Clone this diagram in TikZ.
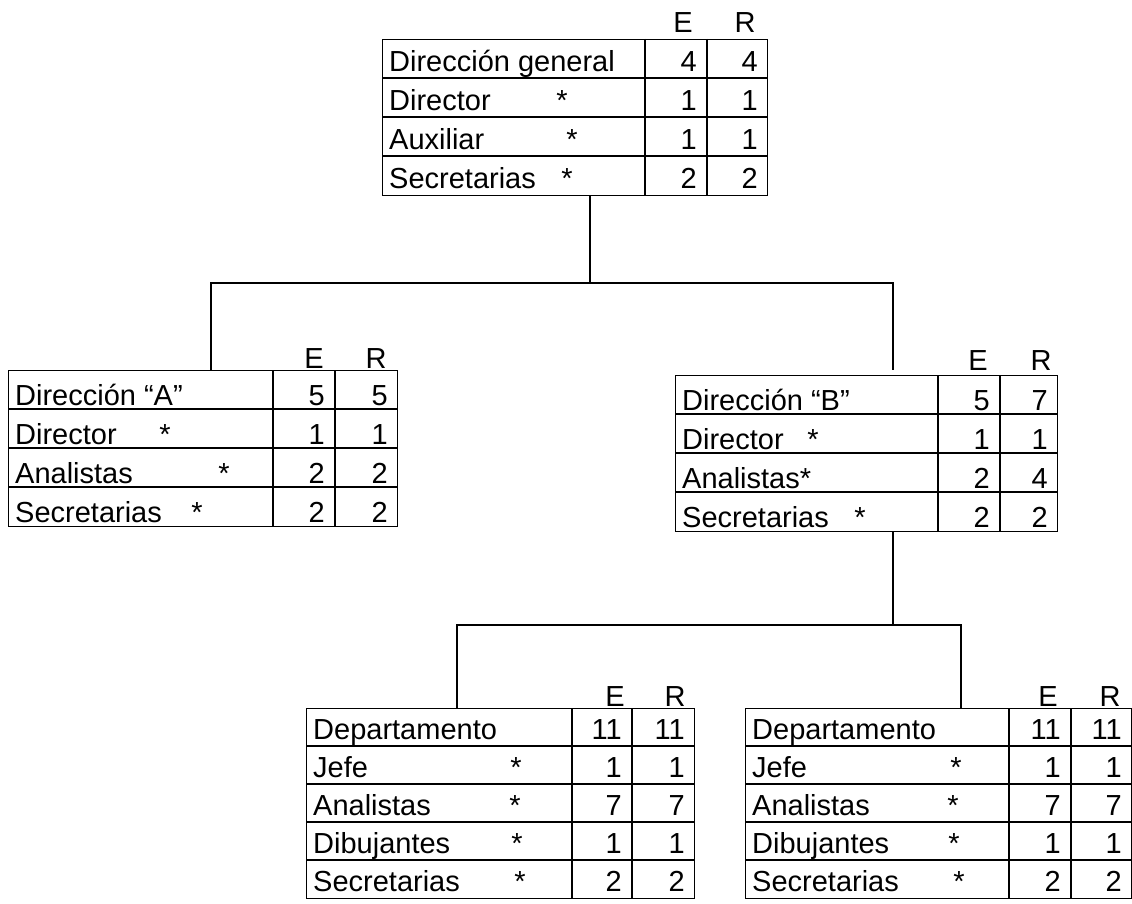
\documentclass[tikz,border=0pt]{standalone}
\usepackage{fontspec}
\setmainfont{Liberation Sans}
\begin{document}
% Staffing chart: each box lists posts with their E and R head counts
\tikzset{
  tbox/.style={draw, line width=1.3pt, inner sep=0pt, anchor=north west},
  grid/.style={line width=1.3pt},
  txt/.style={inner sep=0pt, anchor=base west},
  num/.style={inner sep=0pt, anchor=base east},
  hdr/.style={inner sep=0pt, anchor=base},
  starmark/.style={inner sep=0pt, anchor=base},
  link/.style={line width=1.2pt},
}
% \orgtab{name}{left}{div1}{div2}{right}{top}{rows}{label/star x/E/R,...}
% row height in \rowh, baseline lift above row bottom in \blift
\newcommand{\orgtab}[8]{%
  \pgfmathsetmacro\tabh{#7*\rowh}
  \node[tbox, minimum width={(#5-#2)*1pt}, minimum height=\tabh pt] (#1) at (#2,#6) {};
  \draw[grid] (#3,#6) -- (#3,{#6+\tabh});
  \draw[grid] (#4,#6) -- (#4,{#6+\tabh});
  \foreach \lbl/\st/\ev/\rv [count=\i] in {#8} {
    \pgfmathsetmacro\yb{#6+\i*\rowh}
    \ifnum\i<#7 \draw[grid] (#2,\yb) -- (#5,\yb); \fi
    \node[txt] (#1-t\i) at ({#2+7},{\yb-\blift}) {\lbl};
    \node[num] (#1-e\i) at ({#4-10},{\yb-\blift}) {\ev};
    \node[num] (#1-r\i) at ({#5-9},{\yb-\blift}) {\rv};
    \ifdim\st pt>0pt \node[starmark] (#1-s\i) at (\st,{\yb-\blift}) {*}; \fi
  }
}
\begin{tikzpicture}[x=1pt, y=-1pt, font=\fontsize{29}{35}\selectfont]
\useasboundingbox (0,0) rectangle (1132,904);

% general management
\def\rowh{39}\def\blift{6.5}
\orgtab{dg}{382}{645}{707}{767}{39}{4}{Dirección general/0/4/4, Director/562/1/1, Auxiliar/572/1/1, Secretarias/567/2/2}
\node[hdr] (dg-E) at (683,33) {E};
\node[hdr] (dg-R) at (745,33) {R};

% management A
\def\rowh{39}\def\blift{4}
\orgtab{da}{8}{273}{335}{397}{370}{4}{Dirección “A”/0/5/5, Director/165/1/1, Analistas/224/2/2, Secretarias/197/2/2}
\node[hdr] (da-E) at (314,368) {E};
\node[hdr] (da-R) at (376,368) {R};

% management B
\def\rowh{39}\def\blift{3.5}
\orgtab{db}{675}{938}{1000}{1057}{375}{4}{Dirección “B”/0/5/7, Director/813/1/1, Analistas*/0/2/4, Secretarias/860/2/2}
\node[hdr] (db-E) at (978,370) {E};
\node[hdr] (db-R) at (1041,370) {R};

% departments under B
\def\rowh{38}\def\blift{6.5}
\orgtab{dp1}{306}{572}{632}{694}{708}{5}{Departamento/0/11/11, Jefe/516/1/1, Analistas/515/7/7, Dibujantes/517/1/1, Secretarias/520/2/2}
\node[hdr] (dp1-E) at (615,706) {E};
\node[hdr] (dp1-R) at (675,706) {R};

\orgtab{dp2}{745}{1009}{1071}{1131}{708}{5}{Departamento/0/11/11, Jefe/956/1/1, Analistas/953/7/7, Dibujantes/954/1/1, Secretarias/959/2/2}
\node[hdr] (dp2-E) at (1048,706) {E};
\node[hdr] (dp2-R) at (1110,706) {R};

% connectors
\coordinate (bus1) at (590,283);
\coordinate (aT) at (211,283);
\coordinate (bT) at (893,283);
\coordinate (bEnd) at (893,370);
\draw[link] (dg.south -| bus1) -- (bus1);
\draw[link] (aT |- da.north) -- (aT) -- (bT) -- (bEnd);

\coordinate (bus2) at (893,625);
\coordinate (c1T) at (457,625);
\coordinate (c2T) at (961,625);
\draw[link] (db.south -| bus2) -- (bus2);
\draw[link] (c1T |- dp1.north) -- (c1T) -- (c2T) -- (c2T |- dp2.north);
\end{tikzpicture}
\end{document}
